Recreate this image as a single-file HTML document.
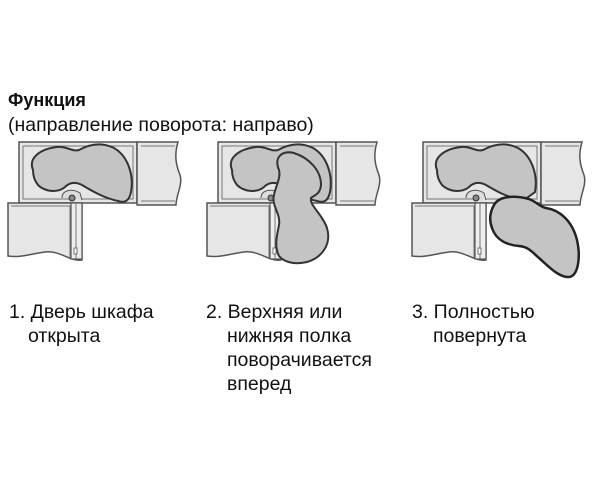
<!DOCTYPE html>
<html><head><meta charset="utf-8"><style>
html,body{margin:0;padding:0;background:#fff;width:600px;height:500px;overflow:hidden}
svg{display:block}
text{font-family:"Liberation Sans",sans-serif;fill:#111}
</style></head><body>
<svg width="600" height="500" viewBox="0 0 600 500">
<defs>
<g id="cab">
  <rect x="19" y="142" width="118" height="61" fill="#e6e6e6" stroke="#555" stroke-width="1.5"/>
  <rect x="23" y="146" width="110" height="53" fill="#e6e6e6" stroke="#777" stroke-width="1"/>
  <path d="M137,142 H178 C174,155 176,165 180,175 C183,185 176,195 176,205 H137 Z" fill="#e6e6e6" stroke="#555" stroke-width="1.5"/>
  <path d="M141,146 H175 M141,201 H175" stroke="#777" stroke-width="1"/>
  <path d="M8,203 H82 V260 C70,262 60,250 45,252 C30,254 20,258 8,256 Z" fill="#e6e6e6" stroke="#555" stroke-width="1.5"/>
  <path d="M11,206 H70 V258" fill="none" stroke="#777" stroke-width="1"/>
  <rect x="71" y="203" width="11" height="56" fill="#eee" stroke="#555" stroke-width="1.2"/>
  <line x1="76" y1="203" x2="76" y2="259" stroke="#777" stroke-width="1"/>
  <rect x="74" y="248" width="3" height="6" fill="#fff" stroke="#555" stroke-width="0.8"/>
  <path d="M62,198 C62,190 72,188 80,193 L82,200" fill="#ddd" stroke="#555" stroke-width="1"/>
  <circle cx="72" cy="198" r="3" fill="#888" stroke="#333" stroke-width="1"/>
</g>
<path id="blob" d="M33,170 C28,158 40,149 57,147 C67,146 72,152 79,150 C90,144 102,142 114,148 C128,156 134,175 131,192 C129,202 124,203 118,201 C104,198 92,191 82,185 C76,182 70,182 65,187 C58,193 45,192 38,185 C34,180 33,175 33,170 Z" fill="#c4c4c4" stroke="#333" stroke-width="2"/>
</defs>

<text x="8" y="106" font-size="18" font-weight="bold">Функция</text>
<text x="8" y="131" font-size="19.5">(направление поворота: направо)</text>

<use href="#cab"/>
<use href="#blob"/>

<g transform="translate(199,0)">
  <use href="#cab"/>
  <use href="#blob"/>
  <path d="M80,170 C75,158 82,150 95,153 C110,158 122,170 122,185 C121,195 115,195 112,198 C110,205 124,215 128,228 C133,245 122,258 108,262 C95,265 85,262 80,256 C75,246 78,235 80,225 C82,214 72,205 75,195 C77,185 82,178 80,170 Z" fill="#c4c4c4" stroke="#333" stroke-width="2"/>
</g>

<g transform="translate(404,0)">
  <use href="#cab"/>
  <path d="M33,170 C28,158 40,149 57,147 C67,146 72,152 79,150 C90,144 102,142 114,148 C128,156 134,175 131,192 L120,200 C104,198 92,191 82,185 C76,182 70,182 65,187 C58,193 45,192 38,185 C34,180 33,175 33,170 Z" fill="#c4c4c4" stroke="#333" stroke-width="2"/>
  <path d="M90,205 C95,196 110,195 125,199 C133,202 136,207 142,208 C155,210 168,220 173,240 C177,258 174,276 165,277 C155,278 143,265 135,258 C128,252 125,247 115,246 C103,245 92,240 88,228 C85,220 86,212 90,205 Z" fill="#c4c4c4" stroke="#222" stroke-width="2.5"/>
</g>

<g font-size="19.5">
<text x="9" y="318">1. Дверь шкафа</text>
<text x="28" y="342">открыта</text>
<text x="206" y="318">2. Верхняя или</text>
<text x="227" y="342">нижняя полка</text>
<text x="227" y="366">поворачивается</text>
<text x="227" y="390">вперед</text>
<text x="412" y="318">3. Полностью</text>
<text x="433" y="342">повернута</text>
</g>
</svg>
</body></html>
